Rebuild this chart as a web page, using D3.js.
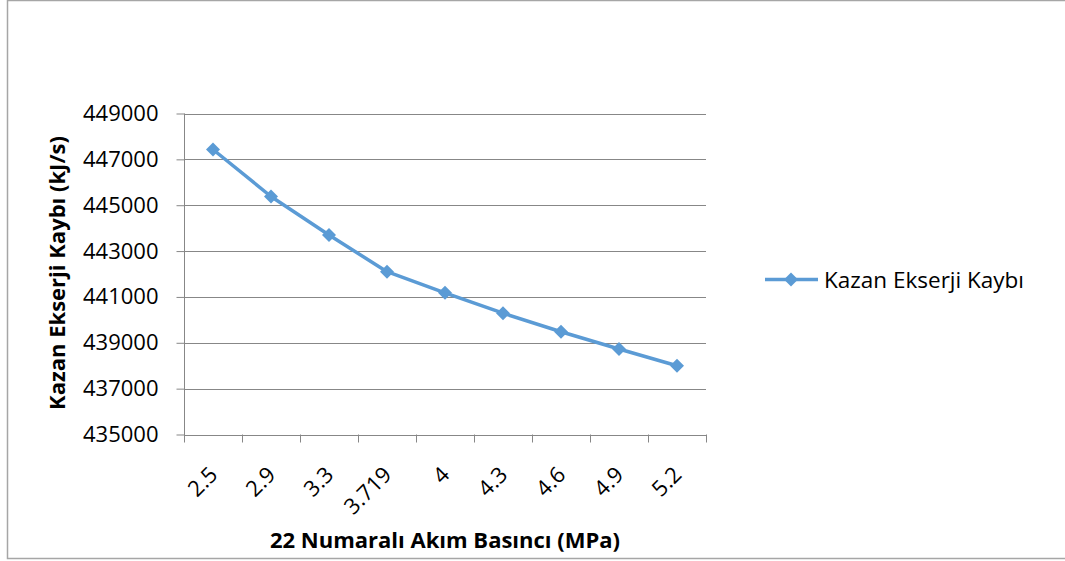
<!DOCTYPE html>
<html>
<head>
<meta charset="utf-8">
<script src="https://cdn.jsdelivr.net/npm/d3@7"></script>
<style>
  html, body { margin: 0; padding: 0; background: #fff; }
  svg { display: block; }
  text { font-family: "Open Sans", "Noto Sans", sans-serif; fill: #000; }
</style>
</head>
<body>
<svg id="chart" width="1065" height="561"></svg>
<script>
// Boiler exergy loss versus stream-22 pressure
const pressures = ["2.5", "2.9", "3.3", "3.719", "4", "4.3", "4.6", "4.9", "5.2"];
const exergyLoss = [447430, 445380, 443700, 442100, 441180, 440290, 439480, 438730, 438000];
const yTicks = [435000, 437000, 439000, 441000, 443000, 445000, 447000, 449000];
const seriesName = "Kazan Ekserji Kaybı";
const xTitle = "22 Numaralı Akım Basıncı (MPa)";
const yTitle = "Kazan Ekserji Kaybı (kJ/s)";

const W = 1065, H = 561;
const plot = { left: 184, right: 706, top: 113.5, bottom: 434.5 };
const lineColor = "#5B9BD5";
const gridColor = "#878787";
const labelSize = "22px";

const svg = d3.select("#chart");

// chart frame
svg.append("rect")
  .attr("x", 7.5).attr("y", 0.5)
  .attr("width", W + 10).attr("height", 558)
  .attr("fill", "#fff").attr("stroke", "#a6a6a6").attr("stroke-width", 1.5);

const x = d3.scaleBand().domain(pressures).range([plot.left, plot.right]).paddingInner(0).paddingOuter(0);
const y = d3.scaleLinear().domain([435000, 449000]).range([plot.bottom, plot.top]);

// horizontal gridlines
svg.append("g")
  .selectAll("line")
  .data(yTicks)
  .join("line")
  .attr("x1", plot.left).attr("x2", plot.right)
  .attr("y1", d => Math.round(y(d)) + 0.5).attr("y2", d => Math.round(y(d)) + 0.5)
  .attr("stroke", gridColor).attr("stroke-width", 1);

// y axis
const yAxis = svg.append("g")
  .attr("transform", `translate(${plot.left + 0.5},0)`)
  .call(d3.axisLeft(y).tickValues(yTicks).tickFormat(d3.format("d")).tickSize(8).tickPadding(18));
yAxis.select(".domain").attr("stroke", gridColor).attr("d", `M0,${plot.top}V${plot.bottom + 1}`);
yAxis.selectAll(".tick line").attr("stroke", gridColor);
yAxis.selectAll(".tick text")
  .style("font-family", "'Open Sans', sans-serif")
  .style("font-size", labelSize).attr("fill", "#000");

// x axis: ticks on category boundaries
const boundaries = pressures.map(p => x(p)).concat([plot.right]);
const xAxisG = svg.append("g");
xAxisG.append("line")
  .attr("x1", plot.left).attr("x2", plot.right)
  .attr("y1", Math.round(plot.bottom) + 0.5).attr("y2", Math.round(plot.bottom) + 0.5)
  .attr("stroke", gridColor);
xAxisG.selectAll("line.tk")
  .data(boundaries)
  .join("line").attr("class", "tk")
  .attr("x1", d => Math.round(d) + 0.5).attr("x2", d => Math.round(d) + 0.5)
  .attr("y1", plot.bottom).attr("y2", plot.bottom + 8)
  .attr("stroke", gridColor);

xAxisG.selectAll("text")
  .data(pressures)
  .join("text")
  .attr("transform", d => `translate(${x(d) + x.bandwidth() / 2 + 6},476) rotate(-45)`)
  .attr("text-anchor", "end")
  .style("font-size", labelSize)
  .text(d => d);

// series line
const line = d3.line()
  .x((d, i) => x(pressures[i]) + x.bandwidth() / 2)
  .y(d => y(d));
svg.append("path")
  .datum(exergyLoss)
  .attr("d", line)
  .attr("fill", "none")
  .attr("stroke", lineColor)
  .attr("stroke-width", 3.5)
  .attr("stroke-linejoin", "round");

const diamond = d3.symbol().type(d3.symbolDiamond2).size(125);
svg.append("g")
  .selectAll("path")
  .data(exergyLoss)
  .join("path")
  .attr("transform", (d, i) => `translate(${x(pressures[i]) + x.bandwidth() / 2},${y(d)})`)
  .attr("d", diamond)
  .attr("fill", lineColor);

// axis titles
svg.append("text")
  .attr("x", (plot.left + plot.right) / 2).attr("y", 548)
  .attr("text-anchor", "middle")
  .style("font-size", "22px").style("font-weight", "bold")
  .text(xTitle);

svg.append("text")
  .attr("transform", `translate(65,273) rotate(-90)`)
  .attr("text-anchor", "middle")
  .style("font-size", "22px").style("font-weight", "bold")
  .text(yTitle);

// legend
const lg = svg.append("g").attr("transform", "translate(765,279.5)");
lg.append("line").attr("x1", 0).attr("x2", 53).attr("y1", 0).attr("y2", 0)
  .attr("stroke", lineColor).attr("stroke-width", 3.5);
lg.append("path").attr("transform", "translate(26,0)").attr("d", diamond).attr("fill", lineColor);
lg.append("text").attr("x", 59).attr("y", 8)
  .style("font-size", "22.5px")
  .text(seriesName);
</script>
</body>
</html>
